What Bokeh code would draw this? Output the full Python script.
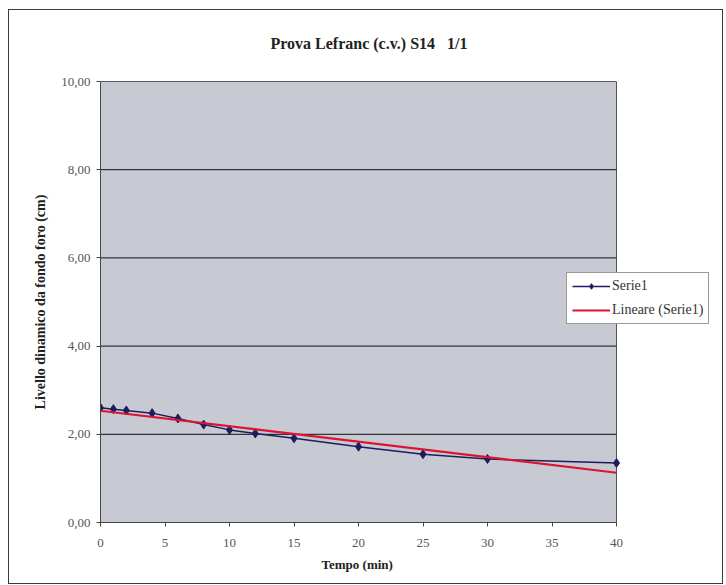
import numpy as np
from bokeh.plotting import figure
from bokeh.models import (Legend, LegendItem, FixedTicker, Range1d, ColumnDataSource,
                          Title, InlineStyleSheet)
from bokeh.embed import file_html
from bokeh.resources import INLINE

# Data
tempo = [0, 1, 2, 4, 6, 8, 10, 12, 15, 20, 25, 30, 40]
livello = [2.60, 2.57, 2.54, 2.48, 2.36, 2.22, 2.10, 2.02, 1.91, 1.72, 1.55, 1.44, 1.35]
y_ticks = [0, 2, 4, 6, 8, 10]
y_tick_labels = ["0,00", "2,00", "4,00", "6,00", "8,00", "10,00"]
x_ticks = [0, 5, 10, 15, 20, 25, 30, 35, 40]
x_min, x_max = 0, 40
y_min, y_max = 0, 10
title_text = "Prova Lefranc (c.v.) S14\u00a0\u00a0 1/1"
x_label = "Tempo (min)"
y_label = "Livello dinamico da fondo foro (cm)"
series_name = "Serie1"
trend_name = "Lineare (Serie1)"

# linear trend (least squares fit of Serie1)
slope, intercept = np.polyfit(tempo, livello, 1)
trend_x = [x_min, x_max]
trend_y = [intercept + slope * v for v in trend_x]

FONT = "Liberation Serif"

# layout (pixels)
W, H = 726, 585
left_b, right_b, top_b, bottom_b = 100, 10, 81, 63
plot_px = 516            # width of the grey plot area
frame_px = W - left_b - right_b
x_view_end = x_max * frame_px / plot_px   # frame extends right so the legend can overlap

p = figure(width=W, height=H, output_backend="svg", toolbar_location=None,
           x_range=Range1d(x_min, x_view_end), y_range=Range1d(y_min, y_max),
           min_border_left=left_b, min_border_right=right_b,
           min_border_top=top_b, min_border_bottom=bottom_b)

p.background_fill_color = "white"
p.border_fill_color = "white"
p.outline_line_color = None
p.stylesheets = [InlineStyleSheet(css="""
:host::after {
  content: "";
  position: absolute;
  left: 8px; top: 9px; width: 713px; height: 573px;
  border: 1px solid #3a3a3a;
  pointer-events: none;
  z-index: 10;
}
""")]

# grey plot area
p.quad(left=[x_min], right=[x_max], bottom=[y_min], top=[y_max],
       fill_color="#c8cad3", line_color="#555555", line_width=1, level="underlay")

# horizontal grid lines limited to the plot area
p.segment(x0=[x_min] * len(y_ticks), x1=[x_max] * len(y_ticks), y0=y_ticks, y1=y_ticks,
          line_color="#111111", line_width=1, level="underlay")

p.title.text = title_text
p.title.align = "left"
p.title.offset = 170
p.title.standoff = 60
p.title.text_font = FONT
p.title.text_font_size = "16px"
p.title.text_font_style = "bold"
p.title.text_color = "#222222"

p.xgrid.grid_line_color = None
p.ygrid.grid_line_color = None

p.xaxis.ticker = FixedTicker(ticks=x_ticks)
p.xaxis.bounds = (x_min, x_max)
p.yaxis.ticker = FixedTicker(ticks=y_ticks)
p.yaxis.major_label_overrides = {t: l for t, l in zip(y_ticks, y_tick_labels)}

for ax in (p.xaxis[0], p.yaxis[0]):
    ax.axis_line_color = "#444444"
    ax.major_tick_line_color = "#444444"
    ax.major_tick_out = 4
    ax.major_tick_in = 0
    ax.minor_tick_line_color = None
    ax.major_label_text_font = FONT
    ax.major_label_text_font_size = "13px"
    ax.major_label_text_color = "#555555"
    ax.axis_label_text_font = FONT
    ax.axis_label_text_font_size = "14px"
    ax.axis_label_text_font_style = "bold"
    ax.axis_label_text_color = "#222222"

p.yaxis.axis_label = y_label
p.xaxis.major_label_standoff = 12
p.yaxis.major_label_standoff = 6
p.yaxis.axis_label_standoff = 10

xt = Title(text=x_label, align="left", offset=221, standoff=10,
           text_font=FONT, text_font_size="13px", text_font_style="bold",
           text_color="#222222")
p.add_layout(xt, "below")

src = ColumnDataSource(dict(x=tempo, y=livello))
l1 = p.line("x", "y", source=src, line_color="#1c1c60", line_width=1.5)
m1 = p.scatter("x", "y", source=src, marker="diamond", size=9,
               fill_color="#1c1c60", line_color="#1c1c60")
l2 = p.line(trend_x, trend_y, line_color="#dc1430", line_width=2.2)

legend = Legend(items=[LegendItem(label=series_name, renderers=[l1, m1]),
                       LegendItem(label=trend_name, renderers=[l2])],
                location=(466, 198))
legend.background_fill_color = "white"
legend.background_fill_alpha = 1
legend.border_line_color = "#333333"
legend.label_text_font = FONT
legend.label_text_font_size = "14px"
legend.label_text_color = "#333333"
legend.glyph_width = 38
legend.glyph_height = 14
legend.label_height = 14
legend.spacing = 8
legend.padding = 5
legend.margin = 0
legend.label_standoff = 2
p.add_layout(legend, "center")

open("out.html", "w").write(file_html(p, INLINE))
